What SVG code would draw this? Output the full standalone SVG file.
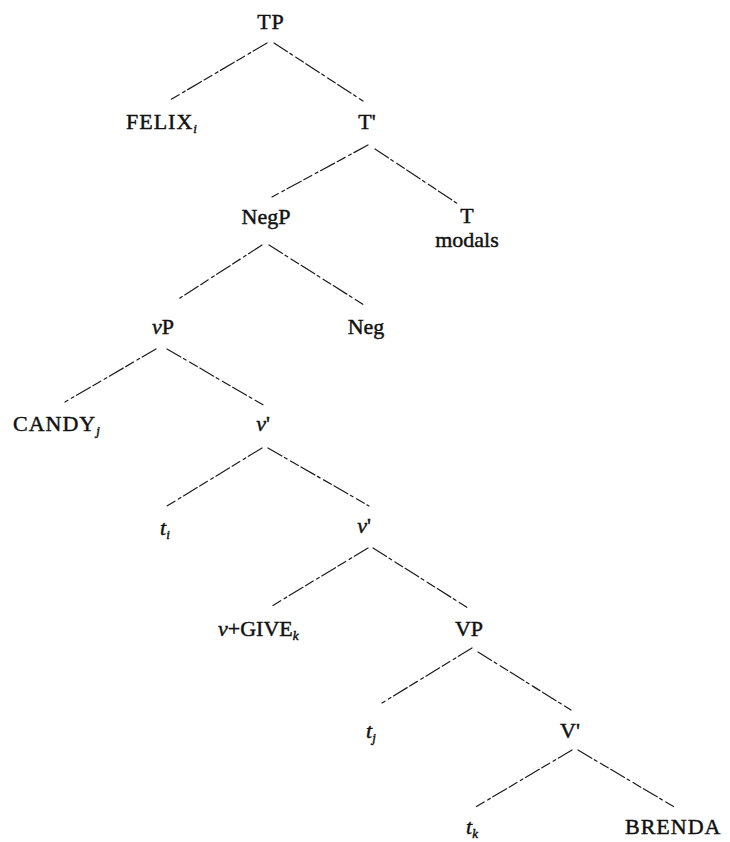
<svg xmlns="http://www.w3.org/2000/svg" width="730" height="842" viewBox="0 0 730 842">
  <style>
    .lbl { font-family: "Liberation Serif", "Times New Roman", serif; font-size: 22px; fill: #111; stroke: #111; stroke-width: 0.45; }
    .mid { text-anchor: middle; }
    .caps { letter-spacing: 1px; }
    .it { font-style: italic; }
    .sub { font-size: 13px; font-style: italic; }
    .edge { stroke: #1a1a1a; stroke-width: 1.2; fill: none; stroke-dasharray: 16 3 3 4 9 3; stroke-linecap: round; }
  </style>
  <rect width="730" height="842" fill="#fff"/>

  <!-- branches of the tree -->
  <g id="connectors">
    <line class="edge" x1="267" y1="43" x2="170" y2="100"/>
    <line class="edge" x1="274" y1="43" x2="363" y2="101"/>
    <line class="edge" x1="368" y1="145" x2="272" y2="197"/>
    <line class="edge" x1="375" y1="149" x2="458" y2="204"/>
    <line class="edge" x1="262" y1="245" x2="177" y2="300"/>
    <line class="edge" x1="269" y1="245" x2="364" y2="305"/>
    <line class="edge" x1="156" y1="349" x2="65" y2="402"/>
    <line class="edge" x1="167" y1="349" x2="265" y2="406"/>
    <line class="edge" x1="262" y1="448" x2="167" y2="506"/>
    <line class="edge" x1="268" y1="448" x2="369" y2="506"/>
    <line class="edge" x1="368" y1="548" x2="272" y2="606"/>
    <line class="edge" x1="373" y1="548" x2="468" y2="608"/>
    <line class="edge" x1="472" y1="648" x2="382" y2="703"/>
    <line class="edge" x1="478" y1="652" x2="571" y2="710"/>
    <line class="edge" x1="572" y1="750" x2="474" y2="808"/>
    <line class="edge" x1="578" y1="750" x2="676" y2="808"/>
  </g>

  <g id="n-TP"><text class="lbl mid caps" x="271" y="29">TP</text></g>
  <g id="n-FELIX"><text class="lbl caps" x="126" y="129">FELIX<tspan class="sub" dy="4">i</tspan></text></g>
  <g id="n-Tbar"><text class="lbl mid" x="367" y="129">T'</text></g>
  <g id="n-NegP"><text class="lbl mid" x="266" y="224">NegP</text></g>
  <g id="n-T">
    <text class="lbl mid" x="467" y="223">T</text>
    <text class="lbl mid" x="467" y="247">modals</text>
  </g>
  <g id="n-vP"><text class="lbl mid" x="163" y="334"><tspan class="it">v</tspan>P</text></g>
  <g id="n-Neg"><text class="lbl mid" x="366" y="334">Neg</text></g>
  <g id="n-CANDY"><text class="lbl caps" x="13" y="431">CANDY<tspan class="sub" dy="4">j</tspan></text></g>
  <g id="n-vbar1"><text class="lbl mid" x="263" y="431"><tspan class="it">v</tspan>'</text></g>
  <g id="n-ti"><text class="lbl it" x="160" y="535">t<tspan class="sub" dy="4">i</tspan></text></g>
  <g id="n-vbar2"><text class="lbl mid" x="364" y="533"><tspan class="it">v</tspan>'</text></g>
  <g id="n-vGIVE"><text class="lbl" x="218" y="636"><tspan class="it">v</tspan>+GIVE<tspan class="sub" dy="4">k</tspan></text></g>
  <g id="n-VP"><text class="lbl mid" x="469" y="636">VP</text></g>
  <g id="n-tj"><text class="lbl it" x="366" y="738">t<tspan class="sub" dy="4">j</tspan></text></g>
  <g id="n-Vbar"><text class="lbl mid" x="570" y="738">V'</text></g>
  <g id="n-tk"><text class="lbl it" x="466" y="834">t<tspan class="sub" dy="4">k</tspan></text></g>
  <g id="n-BRENDA"><text class="lbl caps" x="625" y="834">BRENDA</text></g>
</svg>
